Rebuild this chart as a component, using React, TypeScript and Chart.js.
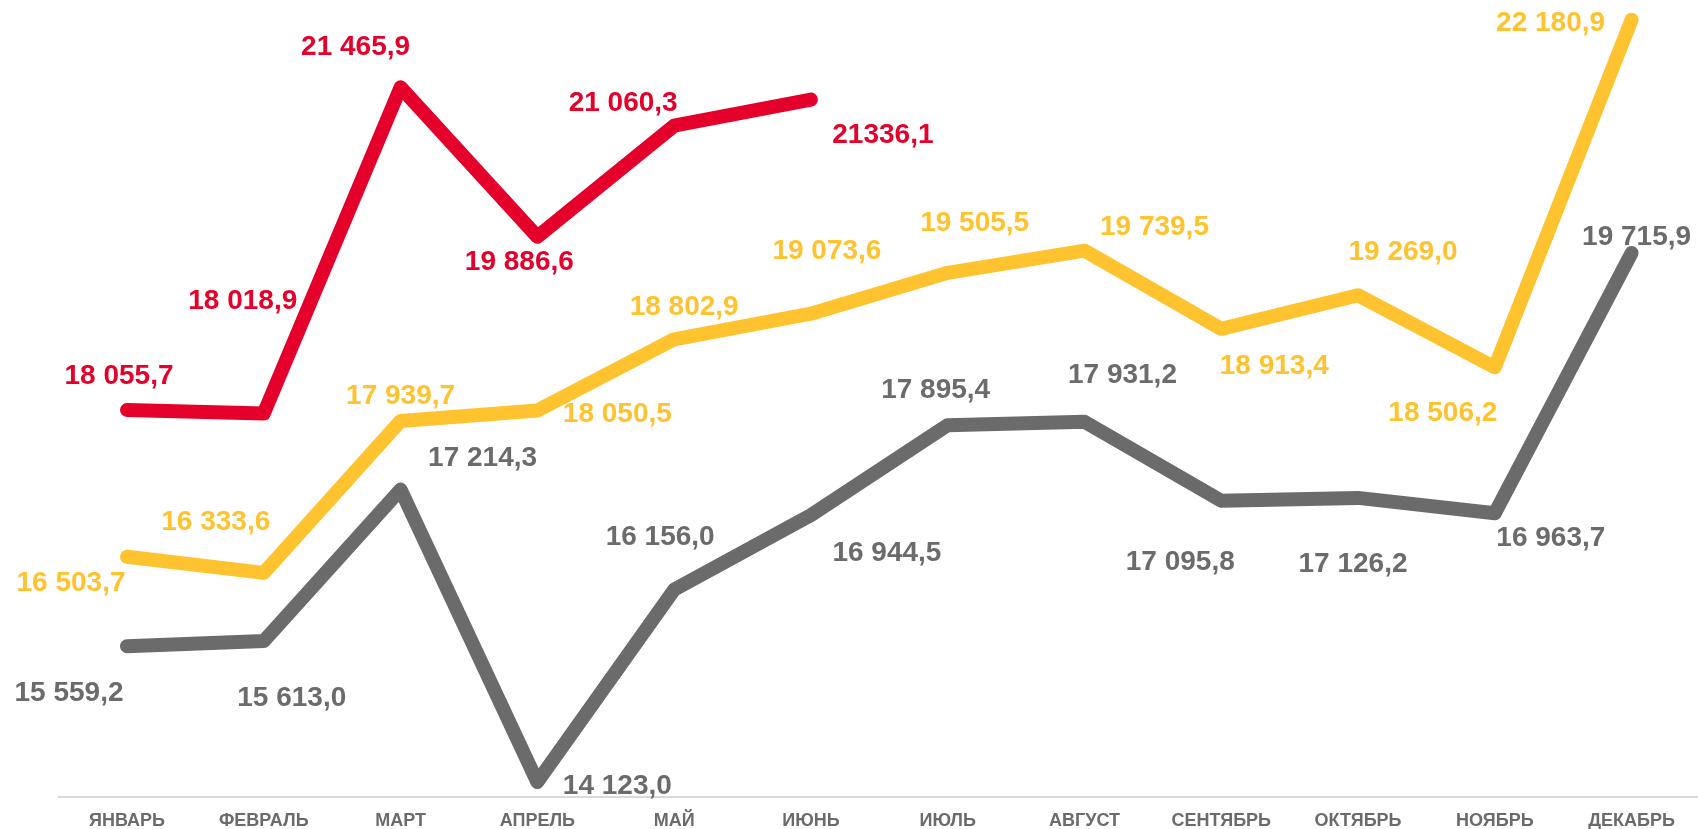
import React, { useEffect, useRef } from "react";
import { Chart, registerables } from "chart.js";

Chart.register(...registerables);

const months = [
  "ЯНВАРЬ", "ФЕВРАЛЬ", "МАРТ", "АПРЕЛЬ", "МАЙ", "ИЮНЬ",
  "ИЮЛЬ", "АВГУСТ", "СЕНТЯБРЬ", "ОКТЯБРЬ", "НОЯБРЬ", "ДЕКАБРЬ",
];

const grayValues = [
  15559.2, 15613.0, 17214.3, 14123.0, 16156.0, 16944.5,
  17895.4, 17931.2, 17095.8, 17126.2, 16963.7, 19715.9,
];
const yellowValues = [
  16503.7, 16333.6, 17939.7, 18050.5, 18802.9, 19073.6,
  19505.5, 19739.5, 18913.4, 19269.0, 18506.2, 22180.9,
];
const redValues = [18055.7, 18018.9, 21465.9, 19886.6, 21060.3, 21336.1];

// whether each red label uses a thousands separator (last one is printed without)
const redGrouping = [true, true, true, true, true, false];

// label placement relative to each point, in px [dx, dy]
const grayOffsets = [
  [-58, 47], [28, 57], [82, -31], [80, 4], [-14, -52], [76, 38],
  [-12, -35], [38, -46], [-41, 61], [-5, 66], [56, 25], [5, -16],
];
const yellowOffsets = [
  [-56, 26], [-48, -51], [0, -25], [80, 4], [10, -32], [16, -62],
  [27, -50], [70, -23], [53, 37], [45, -43], [-52, 46], [-81, 4],
];
const redOffsets = [[-8, -34], [-21, -112], [-45, -40], [-18, 26], [-51, -22], [72, 36]];

const GRAY = "#6b6b6b";
const YELLOW = "#ffc32f";
const RED = "#e4002b";
const FONT = "'Liberation Sans', Arial, sans-serif";

function fmt(v: number, group = true): string {
  const [i, d] = v.toFixed(1).split(".");
  const int = group ? i.replace(/\B(?=(\d{3})+(?!\d))/g, " ") : i;
  return int + "," + d;
}

const labelCfg = [
  { color: GRAY, offsets: grayOffsets, grouping: null as boolean[] | null },
  { color: YELLOW, offsets: yellowOffsets, grouping: null as boolean[] | null },
  { color: RED, offsets: redOffsets, grouping: redGrouping },
];

const pointLabels = {
  id: "pointLabels",
  afterDatasetsDraw(chart: any) {
    const ctx = chart.ctx;
    ctx.save();
    ctx.font = `bold 28px ${FONT}`;
    ctx.textAlign = "center";
    ctx.textBaseline = "middle";
    chart.data.datasets.forEach((ds: any, di: number) => {
      const cfg = labelCfg[di];
      const meta = chart.getDatasetMeta(di);
      ctx.fillStyle = cfg.color;
      meta.data.forEach((pt: any, i: number) => {
        const v = ds.data[i];
        if (v == null) return;
        const [dx, dy] = cfg.offsets[i];
        const g = cfg.grouping ? cfg.grouping[i] : true;
        ctx.fillText(fmt(v, g), pt.x + dx, pt.y + dy);
      });
    });
    ctx.restore();
  },
};

export default function App() {
  const ref = useRef<HTMLCanvasElement | null>(null);

  useEffect(() => {
    if (!ref.current) return;
    const lineStyle = {
      borderWidth: 14,
      pointRadius: 0,
      pointHoverRadius: 0,
      tension: 0,
      borderCapStyle: "round" as const,
      borderJoinStyle: "round" as const,
      clip: false as const,
      fill: false,
    };
    const chart = new Chart(ref.current, {
      type: "line",
      data: {
        labels: months,
        datasets: [
          { data: grayValues, borderColor: GRAY, backgroundColor: GRAY, ...lineStyle },
          { data: yellowValues, borderColor: YELLOW, backgroundColor: YELLOW, ...lineStyle },
          { data: redValues, borderColor: RED, backgroundColor: RED, ...lineStyle },
        ],
      },
      options: {
        responsive: false,
        animation: false,
        devicePixelRatio: 1,
        layout: { padding: { left: 58.6, right: 0, top: 0, bottom: 0 } },
        plugins: {
          legend: { display: false },
          tooltip: { enabled: false },
        },
        scales: {
          x: {
            type: "category",
            offset: true,
            grid: { display: false, drawTicks: false },
            border: { display: true, color: "#d9d9d9", width: 2 },
            ticks: {
              color: GRAY,
              font: { size: 18, weight: "bold", family: FONT },
              padding: 13,
              maxRotation: 0,
              autoSkip: false,
            },
            afterFit: (scale: any) => {
              scale.height = 32;
            },
          },
          y: {
            display: false,
            min: 13965,
            max: 22389,
          },
        },
      },
      plugins: [pointLabels],
    });
    return () => chart.destroy();
  }, []);

  return (
    <div
      style={{
        position: "absolute",
        left: 0,
        top: 0,
        width: 1698,
        height: 829,
        overflow: "hidden",
        background: "#fff",
      }}
    >
      <canvas ref={ref} width={1700} height={829} style={{ display: "block" }} />
    </div>
  );
}
